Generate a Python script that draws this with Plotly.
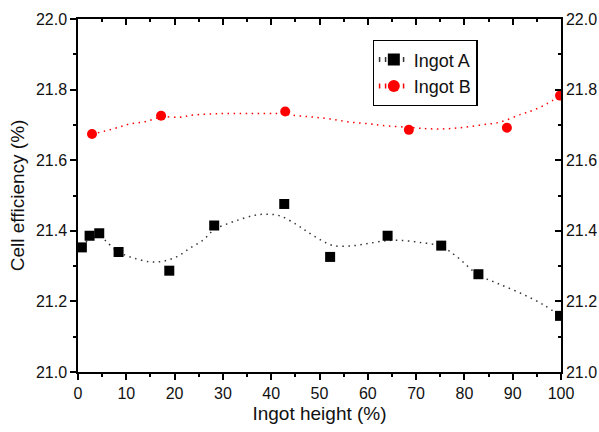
import plotly.graph_objects as go

# Ingot A measured points
a_x = [0.8, 2.4, 4.4, 8.4, 18.9, 28.2, 42.7, 52.2, 64.1, 75.2, 82.9, 99.8]
a_y = [21.353, 21.386, 21.393, 21.340, 21.287, 21.415, 21.476, 21.326, 21.386, 21.358, 21.277, 21.159]

# Ingot A smoothed curve
a_fit_x = [0.8, 2.5, 4.4, 5.7, 8.4, 11.5, 15.0, 17.7, 20.5, 23.2, 26.0, 28.2, 32.2, 36.3, 39.1, 41.9,
           45.3, 47.4, 50.1, 52.9, 57.0, 60.5, 63.9, 66.7, 70.8, 75.2, 78.4, 82.9, 86.7, 91.5, 96.3, 99.8]
a_fit_y = [21.355, 21.378, 21.390, 21.372, 21.340, 21.323, 21.312, 21.314, 21.327, 21.351, 21.375, 21.403,
           21.426, 21.443, 21.447, 21.442, 21.417, 21.398, 21.375, 21.358, 21.358, 21.365, 21.372, 21.373,
           21.367, 21.356, 21.327, 21.275, 21.252, 21.224, 21.191, 21.159]

# Ingot B measured points
b_x = [2.9, 17.2, 42.9, 68.5, 88.8, 99.8]
b_y = [21.674, 21.726, 21.738, 21.686, 21.692, 21.783]

# Ingot B smoothed curve
b_fit_x = [2.9, 7.4, 10.5, 13.9, 17.2, 21.2, 23.9, 29.4, 35.6, 41.2, 45.3, 48.7, 52.2, 56.3, 60.3, 63.2,
           68.5, 72.5, 76.3, 79.8, 83.6, 87.4, 91.9, 94.3, 97.0, 99.8]
b_fit_y = [21.674, 21.689, 21.702, 21.709, 21.722, 21.722, 21.728, 21.732, 21.732, 21.732, 21.726, 21.722,
           21.717, 21.708, 21.703, 21.698, 21.693, 21.689, 21.689, 21.693, 21.700, 21.708, 21.731, 21.742,
           21.759, 21.783]

FONT = "Liberation Sans, Arial, sans-serif"
A_COLOR = "#000000"
B_COLOR = "#ff0000"
DOTS = "1.5px,4.5px"

fig = go.Figure()

fig.add_trace(go.Scatter(x=a_fit_x, y=a_fit_y, mode="lines", line=dict(color="#333333", width=1.5, dash=DOTS, shape="spline"),
                         showlegend=False, hoverinfo="skip"))
fig.add_trace(go.Scatter(x=b_fit_x, y=b_fit_y, mode="lines", line=dict(color=B_COLOR, width=1.5, dash=DOTS, shape="spline"),
                         showlegend=False, hoverinfo="skip"))
fig.add_trace(go.Scatter(x=a_x, y=a_y, mode="markers", marker=dict(symbol="square", size=10, color=A_COLOR),
                         showlegend=False))
fig.add_trace(go.Scatter(x=b_x, y=b_y, mode="markers", marker=dict(symbol="circle", size=10, color=B_COLOR),
                         showlegend=False))

# legend entries (no data), attached to the mirrored axes
fig.add_trace(go.Scatter(x=[None], y=[None], mode="lines+markers", name="Ingot A",
                         line=dict(color="#333333", width=1.5, dash=DOTS),
                         marker=dict(symbol="square", size=10, color=A_COLOR), xaxis="x2", yaxis="y2"))
fig.add_trace(go.Scatter(x=[None], y=[None], mode="lines+markers", name="Ingot B",
                         line=dict(color=B_COLOR, width=1.5, dash=DOTS),
                         marker=dict(symbol="circle", size=10, color=B_COLOR), xaxis="x2", yaxis="y2"))

axis_common = dict(showline=True, linecolor="black", linewidth=1.5, showgrid=False, zeroline=False,
                   tickcolor="black", tickwidth=1.5, ticklen=6, automargin=False,
                   tickfont=dict(family=FONT, size=16, color="#111111"))

fig.update_layout(
    width=599, height=432,
    margin=dict(l=78, r=38, t=19, b=60),
    paper_bgcolor="white", plot_bgcolor="white",
    font=dict(family=FONT, color="#111111"),
    xaxis=dict(range=[0, 100], dtick=10, tick0=0, ticks="outside",
               minor=dict(dtick=5, ticks="outside", ticklen=3, tickcolor="black", tickwidth=1.5),
               title=dict(text="Ingot height (%)", font=dict(family=FONT, size=19), standoff=6),
               **axis_common),
    yaxis=dict(range=[21.0, 22.0], dtick=0.2, tick0=21.0, ticks="outside", tickformat=".1f",
               minor=dict(dtick=0.1, ticks="outside", ticklen=3, tickcolor="black", tickwidth=1.5),
               title=dict(text="Cell efficiency (%)", font=dict(family=FONT, size=19), standoff=6),
               **axis_common),
    xaxis2=dict(range=[0, 100], dtick=10, tick0=0, ticks="inside", overlaying="x", side="top",
                showticklabels=False,
                minor=dict(dtick=5, ticks="inside", ticklen=3, tickcolor="black", tickwidth=1.5),
                **axis_common),
    yaxis2=dict(range=[21.0, 22.0], dtick=0.2, tick0=21.0, ticks="inside", overlaying="y", side="right",
                tickformat=".1f",
                minor=dict(dtick=0.1, ticks="inside", ticklen=3, tickcolor="black", tickwidth=1.5),
                **axis_common),
    legend=dict(x=0.61, y=0.94, xanchor="left", yanchor="top", bordercolor="black", borderwidth=1.2,
                bgcolor="white", font=dict(family=FONT, size=18), tracegroupgap=0, itemsizing="constant"),
)

fig.write_html("out.html", config={"displayModeBar": False},
               post_script="document.body.style.margin='0';document.body.style.overflow='hidden';")
